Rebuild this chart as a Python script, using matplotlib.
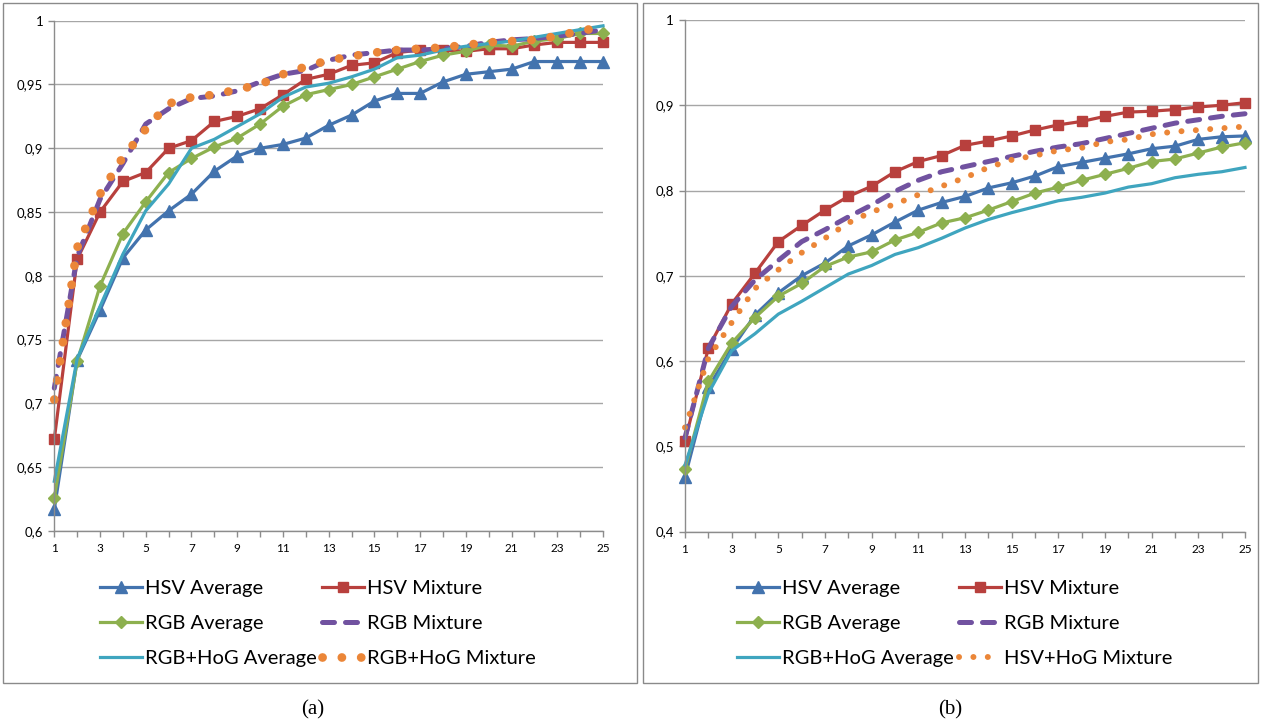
import matplotlib
matplotlib.use("Agg")
import matplotlib.pyplot as plt
from matplotlib.patches import Rectangle

# ---------------- data ----------------
ranks = list(range(1, 26))

# panel (a)
hsv_avg_a = [0.617, 0.734, 0.773, 0.814, 0.836, 0.851, 0.864, 0.882, 0.894, 0.900, 0.903, 0.908, 0.918,
             0.926, 0.937, 0.943, 0.943, 0.952, 0.958, 0.960, 0.962, 0.968, 0.968, 0.968, 0.968]
hsv_mix_a = [0.672, 0.813, 0.850, 0.874, 0.881, 0.900, 0.906, 0.921, 0.925, 0.931, 0.942, 0.954, 0.958,
             0.965, 0.967, 0.975, 0.977, 0.977, 0.976, 0.978, 0.978, 0.981, 0.983, 0.983, 0.983]
rgb_avg_a = [0.626, 0.733, 0.792, 0.833, 0.858, 0.881, 0.892, 0.901, 0.908, 0.919, 0.933, 0.942, 0.946,
             0.950, 0.956, 0.962, 0.968, 0.973, 0.976, 0.981, 0.980, 0.984, 0.986, 0.990, 0.990]
rgb_mix_a = [0.712, 0.815, 0.860, 0.888, 0.919, 0.931, 0.939, 0.941, 0.945, 0.952, 0.958, 0.961, 0.969,
             0.973, 0.975, 0.977, 0.977, 0.978, 0.980, 0.983, 0.985, 0.986, 0.988, 0.990, 0.993]
rgbhog_avg_a = [0.639, 0.735, 0.776, 0.817, 0.851, 0.872, 0.900, 0.907, 0.917, 0.927, 0.940, 0.948, 0.951,
                0.956, 0.962, 0.971, 0.973, 0.977, 0.980, 0.982, 0.984, 0.987, 0.990, 0.993, 0.996]
rgbhog_mix_a = [0.703, 0.822, 0.864, 0.893, 0.915, 0.935, 0.940, 0.942, 0.946, 0.950, 0.958, 0.964, 0.969,
                0.972, 0.975, 0.977, 0.978, 0.979, 0.981, 0.983, 0.984, 0.985, 0.988, 0.992, 0.995]

# panel (b)
hsv_avg_b = [0.464, 0.569, 0.614, 0.654, 0.680, 0.700, 0.715, 0.735, 0.748, 0.763, 0.777, 0.786, 0.793,
             0.803, 0.809, 0.817, 0.828, 0.833, 0.838, 0.843, 0.849, 0.852, 0.860, 0.863, 0.864]
hsv_mix_b = [0.506, 0.615, 0.667, 0.703, 0.740, 0.759, 0.777, 0.793, 0.805, 0.822, 0.834, 0.841, 0.853,
             0.858, 0.864, 0.871, 0.877, 0.881, 0.887, 0.892, 0.893, 0.895, 0.898, 0.900, 0.903]
rgb_avg_b = [0.473, 0.576, 0.621, 0.651, 0.676, 0.691, 0.711, 0.722, 0.728, 0.742, 0.751, 0.762, 0.768,
             0.777, 0.787, 0.797, 0.804, 0.812, 0.819, 0.826, 0.834, 0.837, 0.844, 0.851, 0.856]
rgb_mix_b = [0.510, 0.615, 0.664, 0.695, 0.718, 0.740, 0.754, 0.769, 0.783, 0.799, 0.812, 0.822, 0.828,
             0.834, 0.840, 0.846, 0.851, 0.855, 0.861, 0.867, 0.873, 0.879, 0.883, 0.887, 0.890]
rgbhog_avg_b = [0.478, 0.562, 0.612, 0.632, 0.655, 0.670, 0.686, 0.702, 0.712, 0.725, 0.733, 0.744, 0.756,
                0.766, 0.774, 0.781, 0.788, 0.792, 0.797, 0.804, 0.808, 0.815, 0.819, 0.822, 0.827]
hsvhog_mix_b = [0.522, 0.603, 0.645, 0.685, 0.707, 0.727, 0.744, 0.762, 0.775, 0.784, 0.795, 0.805, 0.815,
                0.827, 0.836, 0.841, 0.847, 0.850, 0.857, 0.860, 0.866, 0.869, 0.871, 0.873, 0.875]

labels_a = ["HSV Average", "HSV Mixture", "RGB Average", "RGB Mixture",
            "RGB+HoG Average", "RGB+HoG Mixture"]
labels_b = ["HSV Average", "HSV Mixture", "RGB Average", "RGB Mixture",
            "RGB+HoG Average", "HSV+HoG Mixture"]

yticks_a = [0.6, 0.65, 0.7, 0.75, 0.8, 0.85, 0.9, 0.95, 1.0]
yticklabels_a = ["0,6", "0,65", "0,7", "0,75", "0,8", "0,85", "0,9", "0,95", "1"]
yticks_b = [0.4, 0.5, 0.6, 0.7, 0.8, 0.9, 1.0]
yticklabels_b = ["0,4", "0,5", "0,6", "0,7", "0,8", "0,9", "1"]
xticklabels = [str(r) if r % 2 == 1 else "" for r in ranks]

captions = ["(a)", "(b)"]

# ---------------- style ----------------
BLUE = "#4373AE"
RED = "#B8403D"
GREEN = "#8DB04F"
PURPLE = "#7152A0"
CYAN = "#3FA5BF"
ORANGE = "#EB8638"
GRID = "#A6A6A6"
AXIS = "#8C8C8C"
FONT = "Lato"

W, H = 1261, 722
fig = plt.figure(figsize=(W / 100, H / 100), dpi=100)


def fx(px):
    return px / W


def fy(py):
    return 1 - py / H


# panel frames
for x0, x1 in [(3, 637), (643, 1258)]:
    fig.patches.append(Rectangle((fx(x0), fy(683)), fx(x1 - x0), (683 - 3) / H,
                                 transform=fig.transFigure, fill=False,
                                 edgecolor="#8A8A8A", linewidth=1.0))


def make_panel(rect, series, labels, yticks, yticklabels, ylim, dot_lw, dot_gap,
               legend_anchor):
    ax = fig.add_axes(rect)
    ax.set_xlim(1, 25)
    ax.set_ylim(*ylim)
    ax.set_yticks(yticks)
    ax.set_yticklabels(yticklabels, fontfamily=FONT, fontsize=9.5)
    ax.set_xticks(ranks)
    ax.set_xticklabels(xticklabels, fontfamily=FONT, fontsize=8.5)
    for s in ["top", "right"]:
        ax.spines[s].set_visible(False)
    for s in ["left", "bottom"]:
        ax.spines[s].set_color(AXIS)
        ax.spines[s].set_linewidth(1.0)
    ax.tick_params(axis="both", length=4, color=AXIS, width=1.0, pad=4)
    ax.tick_params(axis="x", pad=5)
    ax.yaxis.grid(True, color=GRID, linewidth=1.0)
    ax.set_axisbelow(True)

    (s1, s2, s3, s4, s5, s6) = series
    h1, = ax.plot(ranks, s1, color=BLUE, lw=2.3, marker="^", ms=8.5, clip_on=False)
    h2, = ax.plot(ranks, s2, color=RED, lw=2.3, marker="s", ms=7.5, clip_on=False)
    h3, = ax.plot(ranks, s3, color=GREEN, lw=2.3, marker="D", ms=6.5, clip_on=False)
    h4, = ax.plot(ranks, s4, color=PURPLE, lw=3.6, linestyle=(0, (2.4, 2.2)),
                  dash_capstyle="round", clip_on=False)
    h5, = ax.plot(ranks, s5, color=CYAN, lw=2.3, clip_on=False)
    h6, = ax.plot(ranks, s6, color=ORANGE, lw=dot_lw, linestyle=(0, (0.01, dot_gap)),
                  dash_capstyle="round", clip_on=False)
    handles = [h1, h3, h5, h2, h4, h6]
    labs = [labels[0], labels[2], labels[4], labels[1], labels[3], labels[5]]
    fig.legend(handles, labs, loc="upper left", bbox_to_anchor=legend_anchor,
               ncol=2, frameon=False, prop={"family": FONT, "size": 14.5},
               handlelength=2.1, handletextpad=0.15, columnspacing=0.25,
               labelspacing=0.9, borderpad=0, borderaxespad=0)
    return ax


ax_a = make_panel([fx(54.3), fy(531), fx(603 - 54.3), (531 - 20.7) / H],
                  [hsv_avg_a, hsv_mix_a, rgb_avg_a, rgb_mix_a, rgbhog_avg_a, rgbhog_mix_a],
                  labels_a, yticks_a, yticklabels_a, (0.6, 1.0), 6.3, 2.2,
                  (fx(100), fy(579.5)))
ax_b = make_panel([fx(685), fy(531.5), fx(1245 - 685), (531.5 - 20) / H],
                  [hsv_avg_b, hsv_mix_b, rgb_avg_b, rgb_mix_b, rgbhog_avg_b, hsvhog_mix_b],
                  labels_b, yticks_b, yticklabels_b, (0.4, 1.0), 4.3, 2.4,
                  (fx(737), fy(579.5)))

fig.text(fx(313), fy(710), captions[0], ha="center", va="center",
         fontfamily="Liberation Serif", fontsize=15)
fig.text(fx(950), fy(710), captions[1], ha="center", va="center",
         fontfamily="Liberation Serif", fontsize=15)

fig.savefig("out.png", dpi=100)
